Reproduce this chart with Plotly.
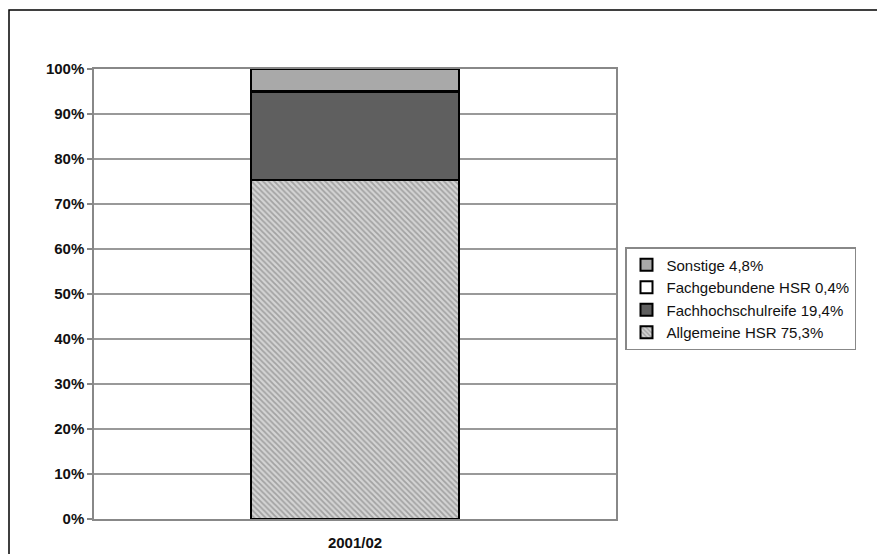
import plotly.graph_objects as go

category = ["2001/02"]
series_names = ["Allgemeine HSR 75,3%", "Fachhochschulreife 19,4%", "Fachgebundene HSR 0,4%", "Sonstige 4,8%"]
allgemeine = [75.3]
fachhochschulreife = [19.4]
fachgebundene = [0.4]
sonstige = [4.8]
y_ticks = [0, 10, 20, 30, 40, 50, 60, 70, 80, 90, 100]
y_tick_labels = [f"{v}%" for v in y_ticks]

FONT = "Liberation Sans, Arial, sans-serif"

fig = go.Figure()
fig.add_trace(go.Bar(
    x=category, y=allgemeine, name=series_names[0],
    marker=dict(color="#c8c8c8", line=dict(color="black", width=2),
                pattern=dict(shape="\\", fgcolor="#707070", bgcolor="#d4d4d4", size=4, solidity=0.45)),
))
fig.add_trace(go.Bar(
    x=category, y=fachhochschulreife, name=series_names[1],
    marker=dict(color="#5f5f5f", line=dict(color="black", width=2)),
))
fig.add_trace(go.Bar(
    x=category, y=fachgebundene, name=series_names[2],
    marker=dict(color="white", line=dict(color="black", width=2)),
))
fig.add_trace(go.Bar(
    x=category, y=sonstige, name=series_names[3],
    marker=dict(color="#a9a9a9", line=dict(color="black", width=2)),
))

fig.update_layout(
    width=877, height=554,
    barmode="stack", barnorm="percent", bargap=0.6,
    margin=dict(l=94, r=261, t=69, b=35, pad=0, autoexpand=False),
    paper_bgcolor="white", plot_bgcolor="white",
    font=dict(family=FONT, size=14, color="#111111"),
    showlegend=True,
    legend=dict(
        xref="container", yref="container",
        x=625 / 877, y=1 - 247 / 554, xanchor="left", yanchor="top",
        traceorder="reversed",
        bgcolor="white", bordercolor="#888888", borderwidth=1.5,
        font=dict(family=FONT, size=15, color="#111111"),
        itemwidth=30, tracegroupgap=0,
    ),
    xaxis=dict(
        automargin=False,
        showgrid=False, showline=True, linecolor="#888888", linewidth=1.5, mirror=True,
        ticks="", tickfont=dict(family=FONT, size=15, color="#111111", weight="bold"),
        ticklabelstandoff=9,
    ),
    yaxis=dict(
        automargin=False,
        range=[0, 100], tickmode="array", tickvals=y_ticks, ticktext=y_tick_labels,
        showgrid=True, gridcolor="#999999", gridwidth=1.5,
        showline=True, linecolor="#888888", linewidth=1.5, mirror=True,
        ticks="outside", ticklen=5, tickcolor="#888888", tickwidth=1.5,
        tickfont=dict(family=FONT, size=15, color="#111111", weight="bold"),
        zeroline=False,
    ),
    shapes=[dict(
        type="rect", xref="paper", yref="paper",
        x0=(9 - 94) / 522, x1=(900 - 94) / 522,
        y0=(519 - 600) / 450, y1=(519 - 10) / 450,
        line=dict(color="black", width=1.5), fillcolor="rgba(0,0,0,0)", layer="below",
    )],
)

fig.write_html("out.html")
